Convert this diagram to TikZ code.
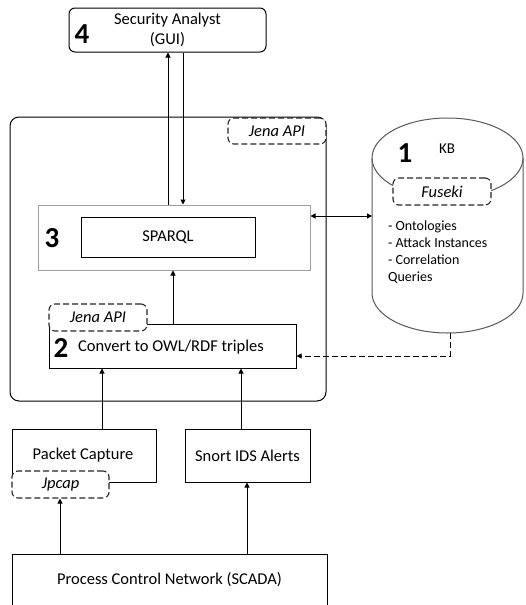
\documentclass[tikz,border=0pt]{standalone}
\usepackage{fontspec}
\setmainfont{Carlito}
\usetikzlibrary{arrows.meta}

\tikzset{
  base/.style={font=\fontsize{16.5}{20.5}\selectfont},
  box/.style={base, draw=black, line width=1pt, fill=white, rectangle, inner sep=0pt},
  apibox/.style={base, draw=black!85, line width=1.1pt, dash pattern=on 6pt off 3pt,
    rounded corners=6pt, fill=white, inner sep=0pt, font=\fontsize{16.5}{20}\selectfont\itshape},
  num/.style={font=\fontsize{29}{30}\selectfont\bfseries, inner sep=0pt},
  arr/.style={line width=1pt, -{Triangle[length=5pt,width=5pt]}},
}

\begin{document}
\begin{tikzpicture}[x=1pt,y=-1pt]
\useasboundingbox (0,0) rectangle (526,605);
\clip (0,0) rectangle (526,605);
\fill[white] (0,0) rectangle (526,605);

% Security analyst front end
\node[box, rounded corners=6pt, minimum width=197pt, minimum height=44pt, align=center]
  (gui) at (167.5,30) {Security Analyst\\(GUI)};
\node[num] (n4) at (82,34) {4};

% Jena container
\node[box, rounded corners=9pt, fill=none, minimum width=316pt, minimum height=284pt]
  (jena) at (168,259) {};
\node[apibox, minimum width=98pt, minimum height=26pt] (apiTop) at (277,131) {Jena API};

% query layer
\node[box, draw=black!38, minimum width=272pt, minimum height=65pt] (sparqlOuter) at (174,237.5) {};
\node[box, minimum width=174pt, minimum height=40pt] (sparql) at (168,237) {SPARQL};
\node[num] (n3) at (52,238) {3};

% conversion layer
\node[box, minimum width=247pt, minimum height=44pt] (convert) at (172.5,346) {};
\node[base, inner sep=0pt, anchor=west] (convText) at (78,347) {Convert to OWL/RDF triples};
\node[num] (n2) at (61,347.5) {2};
\node[apibox, minimum width=98pt, minimum height=27pt] (apiLow) at (98,317.5) {Jena API};

% data sources
\node[box, minimum width=144pt, minimum height=53pt] (packet) at (84,455.5) {};
\node[base, inner sep=0pt] (packetText) at (83,455) {Packet Capture};
\node[apibox, minimum width=97pt, minimum height=27pt] (jpcap) at (60.5,484.5) {Jpcap};
\node[box, minimum width=125pt, minimum height=53pt] (snort) at (247.5,455.5) {Snort IDS Alerts};
\node[box, minimum width=315pt, minimum height=52pt] (pcn) at (169.5,580) {Process Control Network (SCADA)};

% knowledge base cylinder
\filldraw[fill=white, draw=black!65, line width=1pt]
  (372,158) -- (372,293) arc[start angle=180, end angle=360, x radius=75.5pt, y radius=40pt]
  -- (523,158) arc[start angle=0, end angle=180, x radius=75.5pt, y radius=40pt] -- cycle;
\draw[draw=black!65, line width=1pt]
  (372,158) arc[start angle=180, end angle=360, x radius=75.5pt, y radius=40pt];
\node[num] (n1) at (405,153) {1};
\node[base, font=\fontsize{15}{18}\selectfont, inner sep=0pt] (kbText) at (447,149) {KB};
\node[apibox, minimum width=98pt, minimum height=27pt] (fuseki) at (442,191.5) {Fuseki};
\node[inner sep=0pt, anchor=north west, align=left, font=\fontsize{14}{16.7}\selectfont]
  (kbList) at (388,221) {- Ontologies\\- Attack Instances\\- Correlation\\Queries};

\coordinate (kbL) at (372,216);
\coordinate (kbB) at (450,333);
\coordinate (kbTurn) at (450,356);

% connector columns
\coordinate (xUp) at (168,0);
\coordinate (xDown) at (183,0);
\coordinate (xConv) at (173,0);
\coordinate (xPkt) at (102,0);
\coordinate (xSnort) at (241,0);
\coordinate (xJp) at (60,0);
\coordinate (xAl) at (247,0);

% connectors
\draw[arr] (sparqlOuter.north -| xUp) -- (gui.south -| xUp);
\draw[arr] (gui.south -| xDown) -- (sparqlOuter.north -| xDown);
\draw[line width=1pt, {Triangle[length=5pt,width=5pt]}-{Triangle[length=5pt,width=5pt]}]
  (sparqlOuter.east |- kbL) -- (kbL);
\draw[arr] (convert.north -| xConv) -- (sparqlOuter.south -| xConv);
\draw[arr, dash pattern=on 6pt off 3pt] (kbB) -- (kbTurn) -- (convert.east |- kbTurn);
\draw[arr] (packet.north -| xPkt) -- (convert.south -| xPkt);
\draw[arr] (snort.north -| xSnort) -- (convert.south -| xSnort);
\draw[arr] (pcn.north -| xJp) -- (jpcap.south -| xJp);
\draw[arr] (pcn.north -| xAl) -- (snort.south -| xAl);
\end{tikzpicture}
\end{document}
